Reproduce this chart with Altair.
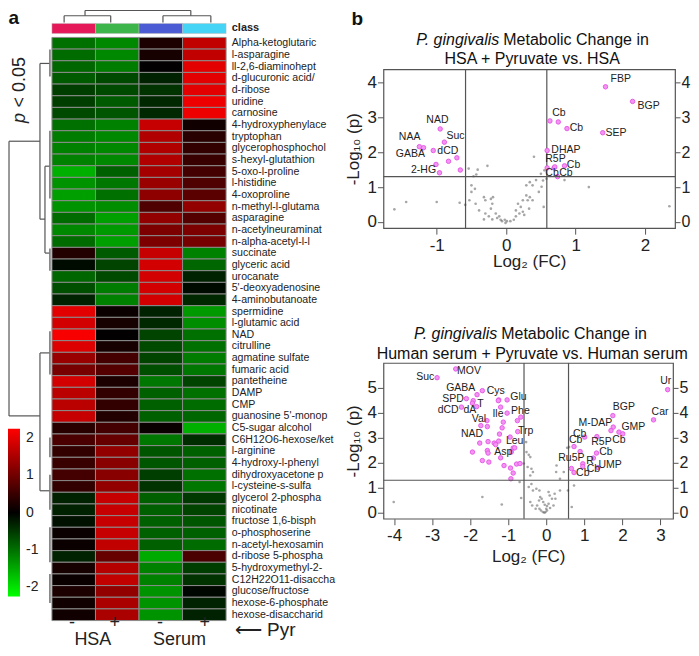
import altair as alt
import pandas as pd

FONT = "Liberation Sans"

# ---------------- heatmap data ----------------
metabolites = [
    "Alpha-ketoglutaric", "l-asparagine", "ll-2,6-diaminohept", "d-glucuronic acid/",
    "d-ribose", "uridine", "carnosine", "4-hydroxyphenylace", "tryptophan",
    "glycerophosphochol", "s-hexyl-glutathion", "5-oxo-l-proline", "l-histidine",
    "4-oxoproline", "n-methyl-l-glutama", "asparagine", "n-acetylneuraminat",
    "n-alpha-acetyl-l-l", "succinate", "glyceric acid", "urocanate",
    "5'-deoxyadenosine", "4-aminobutanoate", "spermidine", "l-glutamic acid", "NAD",
    "citrulline", "agmatine sulfate", "fumaric acid", "pantetheine", "DAMP", "CMP",
    "guanosine 5'-monop", "C5-sugar alcohol", "C6H12O6-hexose/ket", "l-arginine",
    "4-hydroxy-l-phenyl", "dihydroxyacetone p", "l-cysteine-s-sulfa",
    "glycerol 2-phospha", "nicotinate", "fructose 1,6-bisph", "o-phosphoserine",
    "n-acetyl-hexosamin", "d-ribose 5-phospha", "5-hydroxymethyl-2-",
    "C12H22O11-disaccha", "glucose/fructose", "hexose-6-phosphate", "hexose-disaccharid",
]
hsa_minus = [-1.0, -0.95, -0.9, -0.8, -0.55, -0.55, -0.65, -1.0, -1.1, -1.15, -1.15, -1.55,
             -1.3, -1.4, -1.3, -0.95, -1.2, -0.95, 0.3, -0.1, -0.9, -0.7, -0.3, 2.0, 1.85,
             2.2, 1.95, 1.35, 1.05, 1.85, 1.65, 1.65, 1.75, 0.35, 0.65, 0.45, 0.5, 0.6, 0.45,
             -0.3, -0.3, -0.15, 0.1, 0.1, -0.3, 0.2, 0.1, 0.25, 0.15, 0.15]
hsa_plus = [-1.2, -1.2, -1.1, -0.65, -0.65, -0.8, -0.75, -1.15, -1.2, -1.2, -1.2, -0.85,
            -1.05, -1.0, -1.25, -1.4, -1.35, -1.4, -0.8, -0.6, -0.65, -1.1, -1.15, 0.1, 0.2,
            0.02, 0.2, 0.6, 0.75, 0.25, 0.45, 0.45, 0.3, 0.6, 0.9, 1.3, 1.2, 1.2, 1.3, 1.75,
            1.75, 1.75, 1.75, 1.7, 0.9, 1.6, 1.7, 1.3, 1.5, 1.5]
serum_minus = [0.25, 0.2, 0.02, -0.3, -0.45, -0.35, -0.35, 1.75, 1.55, 1.55, 1.55, 1.45,
               1.35, 1.25, 0.7, 1.3, 1.1, 1.1, 1.75, 1.85, 1.85, 1.85, 1.85, -0.3, -0.35,
               -0.6, -0.65, -0.6, -0.7, -1.05, -0.85, -0.85, -0.85, 0.1, -1.05, -0.75, -0.75,
               -0.55, -0.45, -0.85, -0.85, -0.85, -0.85, -0.85, -1.5, -1.15, -1.15, -1.3,
               -1.3, -1.3]
serum_plus = [1.7, 1.7, 2.0, 2.0, 2.0, 2.1, 2.1, 0.15, 0.35, 0.45, 0.5, 0.6, 0.7, 0.8, 1.3,
              0.75, 1.1, 1.05, -1.15, -0.9, -0.3, -0.1, -0.35, -1.35, -1.25, -1.0, -1.0, -1.1,
              -1.05, -0.6, -1.0, -0.95, -0.9, -1.55, -0.4, -0.85, -0.85, -1.0, -1.05, -0.5,
              -0.6, -0.75, -0.85, -0.95, 0.65, -0.55, -0.45, -0.05, -0.3, -0.3]
class_colors = ["#E5185A", "#3DB54A", "#4B5BD3", "#45D4F5"]
pyr_signs = ["-", "+", "-", "+"]
media = ["HSA", "Serum"]
legend_ticks = [2, 1, 0, -1, -2]

# dendrogram segments: (height1, position1, height2, position2)
# row tree: height in column widths (negative = left), position in rows
row_tree_main = [
    (-0.986, 8.90, -0.986, 32.45), (-0.986, 8.90, -0.275, 8.90), (-0.986, 32.45, -0.275, 32.45),
    (-0.275, 2.23, -0.275, 15.58), (-0.275, 2.23, -0.046, 2.23),
    (-0.275, 15.58, -0.16, 15.58), (-0.16, 11.04, -0.16, 18.49),
    (-0.16, 11.04, -0.046, 11.04), (-0.16, 18.49, -0.046, 18.49),
    (-0.275, 27.05, -0.275, 38.87), (-0.275, 27.05, -0.046, 27.05), (-0.275, 38.87, -0.046, 38.87),
]
row_tree_leaf = [
    (-0.046, 1.03, -0.046, 3.34), (-0.046, 8.0, -0.046, 13.8), (-0.046, 18.1, -0.046, 20.0),
    (-0.046, 25.2, -0.046, 28.9), (-0.046, 34.3, -0.046, 36.0), (-0.046, 37.5, -0.046, 40.5),
    (-0.046, 42.0, -0.046, 45.0), (-0.046, 46.0, -0.046, 48.5),
]
# column tree: position in columns, height in rows (negative = above)
col_tree = [
    (0.28, -1.86, 1.35, -1.86), (0.28, -1.86, 0.28, -1.28), (1.35, -1.86, 1.35, -1.28),
    (2.55, -1.86, 3.65, -1.86), (2.55, -1.86, 2.55, -1.28), (3.65, -1.86, 3.65, -1.28),
    (0.76, -2.31, 3.19, -2.31), (0.76, -2.31, 0.76, -1.86), (3.19, -2.31, 3.19, -1.86),
]

# ---------------- volcano data ----------------
hsa_grey_fc = [-1.61, -1.44, -1.0, -0.67, -0.59, 2.35, 1.19, 0.84, 0.54, 0.40, -0.54, -0.47,
               -0.43, -0.41, -0.27, -0.50, -0.45, -0.50, -0.53, -0.44, -0.39, -0.32, -0.30,
               -0.22, -0.20, -0.19, -0.22, -0.30, -0.32, -0.25, -0.20, -0.15, -0.10, -0.06,
               -0.01, 0.01, -0.02, -0.08, -0.13, 0.06, 0.11, 0.14, 0.19, 0.24, 0.14, 0.21,
               0.17, 0.29, 0.34, 0.38, 0.31, 0.26, 0.33, 0.24, 0.38, 0.43, 0.47, 0.51, 0.55,
               0.50, 0.58, 0.53, 0.34, 0.29]
hsa_grey_p = [0.36, 0.57, 0.57, 0.55, 0.49, 0.45, 1.0, 1.2, 0.43, 1.87, 1.53, 1.31, 1.36,
              1.50, 1.61, 1.05, 0.95, 0.86, 0.62, 0.52, 0.33, 0.71, 0.62, 0.66, 0.52, 0.71,
              0.38, 0.24, 0.07, 0.16, 0.07, 0.24, 0.16, 0.02, -0.03, 0.02, 0.06, 0.06, 0.11,
              0.02, 0.06, 0.16, 0.24, 0.29, 0.33, 0.43, 0.52, 0.76, 0.71, 0.62, 0.62, 0.20,
              0.38, 0.62, 1.05, 1.20, 0.86, 1.01, 1.48, 1.38, 1.24, 1.19, 1.14, 1.05]
hsa_sig_fc = [1.43, 1.82, 1.39, 0.63, 0.75, 0.875, 0.59, 0.59, 0.69, 0.70, 0.84, 0.74, -0.95,
              -0.89, -1.25, -1.19, -1.05, -0.71, -0.83, -1.01, -0.66, -0.96]
hsa_sig_p = [3.88, 3.46, 2.56, 2.90, 2.87, 2.68, 2.05, 1.55, 1.55, 1.58, 1.61, 1.30, 2.67,
             2.29, 2.16, 2.13, 2.05, 1.84, 1.74, 1.65, 1.49, 1.41]
hsa_labels = ["FBP", "BGP", "SEP", "Cb", "Cb", "DHAP", "R5P", "Cb", "Cb", "Cb", "NAD", "Suc",
              "NAA", "GABA", "dCD", "2-HG"]
hsa_label_fc = [1.65, 2.05, 1.58, 0.76, 1.01, 0.86, 0.71, 0.97, 0.66, 0.86, -0.99, -0.73,
                -1.39, -1.38, -0.84, -1.19]
hsa_label_p = [4.10, 3.34, 2.56, 3.13, 2.70, 2.07, 1.81, 1.64, 1.41, 1.41, 2.93, 2.46, 2.43,
               1.95, 2.05, 1.48]

serum_grey_fc = [-4.01, -1.68, -1.17, -0.53, -0.52, -0.46, -0.42, -0.59, -0.49, -0.39, -0.35,
                 -0.42, -0.70, -0.66, -0.46, -0.39, -0.35, -0.26, -0.18, -0.19, -0.42, -0.37,
                 -0.28, -0.18, -0.14, -0.09, -0.05, -0.02, 0.02, 0.06, 0.09, 0.15, 0.24, 0.22,
                 0.19, 0.06, 0.10, 0.02, 0.26, 0.27, 0.36, 0.36, 0.46, 0.55, 0.57, 0.67, 0.73,
                 -0.16, -0.12, -0.08, -0.04, 0.0, -0.24, 0.60]
serum_grey_p = [0.43, 0.63, 0.33, 2.83, 2.43, 2.32, 2.23, 1.97, 1.83, 1.76, 1.63, 1.49, 1.23,
                0.59, 1.03, 1.15, 0.89, 0.96, 0.89, 0.49, 0.43, 0.29, 0.16, 0.16, 0.09, 0.03,
                0.0, 0.03, 0.09, 0.83, 0.69, 0.56, 0.56, 0.76, 0.29, 0.36, 0.19, 0.27, 1.63,
                1.89, 0.89, 1.36, 1.63, 2.60, 0.89, 0.23, 1.09, 0.63, 0.56, 0.43, 0.32, 0.16,
                0.29, 2.63]
serum_sig_fc = [-2.38, -2.87, -1.68, -1.82, -2.10, -1.92, -1.94, -1.83, -2.23, -1.25, -1.26,
                -1.03, -1.20, -1.03, -1.56, -1.55, -1.72, -1.13, -1.16, -0.75, -0.67, -0.76,
                -1.23, -1.75, -1.53, -1.37, -1.33, -1.25, -1.55, -1.53, -1.94, -0.95, -0.87,
                -0.83, -0.92, -1.20, -1.68, -1.51, -1.11, -0.78, -0.69, -0.94, -0.87, -0.93,
                3.19, 2.82, 1.75, 1.76, 1.70, 1.91, 2.01, 1.33, 1.01, 0.73, 0.89, 1.32, 1.24,
                0.96, 0.96, 1.36, 0.66, 0.73]
serum_sig_p = [5.76, 5.41, 4.89, 4.73, 4.57, 4.49, 4.39, 4.25, 4.23, 4.52, 4.49, 4.52, 4.23,
               3.99, 3.69, 3.45, 3.49, 3.63, 3.40, 3.25, 3.83, 3.69, 3.15, 2.79, 2.85, 2.79,
               2.73, 2.87, 2.49, 2.39, 2.43, 3.03, 2.59, 2.60, 2.43, 2.20, 2.09, 2.03, 1.89,
               1.95, 1.97, 1.79, 1.59, 1.36, 4.93, 3.72, 3.89, 3.43, 3.29, 3.23, 3.16, 3.05,
               3.03, 2.65, 2.45, 2.39, 2.19, 1.96, 1.85, 1.81, 1.77, 1.61]
serum_labels = ["MOV", "Suc", "GABA", "Cys", "SPD", "T", "Glu", "dCD", "dA", "Ile", "Phe",
                "Val", "Trp", "NAD", "Leu", "Asp", "Ur", "Car", "BGP", "M-DAP", "GMP", "Cb",
                "Cb", "R5P", "Cb", "Cb", "Ru5P", "R", "UMP", "Cb", "Cb"]
serum_label_fc = [-2.03, -3.18, -2.25, -1.33, -2.45, -1.73, -0.73, -2.58, -2.01, -1.27, -0.68,
                  -1.77, -0.54, -1.95, -0.83, -1.13, 3.14, 2.99, 2.04, 1.29, 2.29, 0.88, 0.77,
                  1.45, 1.91, 1.57, 0.66, 1.15, 1.68, 1.24, 0.96]
serum_label_p = [5.69, 5.44, 4.99, 4.89, 4.56, 4.36, 4.65, 4.12, 4.12, 3.96, 4.09, 3.76, 3.29,
                 3.16, 2.87, 2.45, 5.29, 4.03, 4.25, 3.61, 3.45, 3.17, 2.92, 2.83, 2.93, 2.43,
                 2.19, 2.09, 1.92, 1.76, 1.60]
fc_cut = [-0.585, 0.585]
p_cut = [1.301]

# ---------------- left panel (heatmap) ----------------
# plot origin of the left panel is aligned with the plot origin of the top volcano
COL_W, ROW_H = 43.6, 11.68
W_LEFT, H_LEFT = 330, 580
XMIN = -(52 - 8) / COL_W
XMAX = XMIN + W_LEFT / COL_W
YMIN = (68 - 36) / ROW_H
YMAX = YMIN + H_LEFT / ROW_H
xsL = alt.Scale(domain=[XMIN, XMAX], nice=False, zero=False)
ysL = alt.Scale(domain=[YMIN, YMAX], nice=False, zero=False, reverse=True)


def LX(f):
    return alt.X(f, type="quantitative", scale=xsL, axis=None)


def LY(f):
    return alt.Y(f, type="quantitative", scale=ysL, axis=None)


cols = [hsa_minus, hsa_plus, serum_minus, serum_plus]
heat = pd.DataFrame([
    {"m": m, "r": i, "r2": i + 1, "c": j, "c2": j + 1, "z": cols[j][i]}
    for i, m in enumerate(metabolites) for j in range(4)
])
heat_layer = alt.Chart(heat).mark_rect(stroke="#8c8c8c", strokeWidth=1).encode(
    x=LX("c"), x2="c2", y=LY("r"), y2="r2",
    color=alt.Color("z:Q",
                    scale=alt.Scale(domain=[-2.25, 0, 2.25],
                                    range=["#00ff00", "#000000", "#ff0000"],
                                    interpolate="rgb"),
                    legend=alt.Legend(title=None, orient="none", legendX=0, legendY=360,
                                      direction="vertical", gradientLength=168,
                                      gradientThickness=12, gradientStrokeWidth=0,
                                      values=legend_ticks, labelFontSize=14,
                                      labelAlign="center", labelOffset=6,
                                      labelColor="#222", labelExpr="'' + datum.value")),
)

cls = pd.DataFrame({"c": range(4), "c2": [k + 1 for k in range(4)], "col": class_colors,
                    "y1": -1.20, "y2": -0.34})
class_layer = alt.Chart(cls).mark_rect(stroke="#bbbbbb", strokeWidth=0.5).encode(
    x=LX("c"), x2="c2", y=LY("y1"), y2="y2", fill=alt.Fill("col:N", scale=None))

seg_main = pd.DataFrame(row_tree_main + col_tree, columns=["x1", "y1", "x2", "y2"])
seg_leaf = pd.DataFrame(row_tree_leaf, columns=["x1", "y1", "x2", "y2"])
tree_layer = alt.Chart(seg_main).mark_rule(color="#555555", strokeWidth=1.2).encode(
    x=LX("x1"), y=LY("y1"), x2="x2", y2="y2")
leaf_layer = alt.Chart(seg_leaf).mark_rule(color="#777777", strokeWidth=1.6).encode(
    x=LX("x1"), y=LY("y1"), x2="x2", y2="y2")

lab = pd.DataFrame({"m": metabolites, "r": [i + 0.5 for i in range(len(metabolites))],
                    "x": 4.13})
label_layer = alt.Chart(lab).mark_text(align="left", baseline="middle", fontSize=10.6,
                                       color="#222").encode(
    x=LX("x"), y=LY("r"), text="m:N")

class_txt = alt.Chart(pd.DataFrame({"t": ["class"], "x": [4.13], "y": [-0.77]})).mark_text(
    align="left", baseline="middle", fontSize=11, fontWeight="bold", color="#222").encode(
    x=LX("x"), y=LY("y"), text="t:N")

signs = pd.DataFrame({"t": pyr_signs, "x": [0.46, 1.44, 2.48, 3.51], "y": 50.21})
sign_layer = alt.Chart(signs).mark_text(baseline="middle", fontSize=18, color="#222").encode(
    x=LX("x"), y=LY("y"), text="t:N")
med = pd.DataFrame({"t": media, "x": [0.94, 2.93], "y": 51.67})
med_layer = alt.Chart(med).mark_text(baseline="middle", fontSize=18, color="#222").encode(
    x=LX("x"), y=LY("y"), text="t:N")
pyr = pd.DataFrame({"t": ["\u27f5 Pyr"], "x": [4.2], "y": [50.78]})
pyr_layer = alt.Chart(pyr).mark_text(align="left", baseline="middle", fontSize=19,
                                     color="#222").encode(x=LX("x"), y=LY("y"), text="t:N")

p_it = alt.Chart(pd.DataFrame({"t": ["p"], "x": [-0.734], "y": [6.9]})).mark_text(
    angle=270, baseline="middle", fontSize=18, fontStyle="italic", color="#222").encode(
    x=LX("x"), y=LY("y"), text="t:N")
p_txt = alt.Chart(pd.DataFrame({"t": ["< 0.05"], "x": [-0.734], "y": [3.85]})).mark_text(
    angle=270, baseline="middle", fontSize=18, color="#222").encode(
    x=LX("x"), y=LY("y"), text="t:N")
a_txt = alt.Chart(pd.DataFrame({"t": ["a"], "x": [-0.995], "y": [-1.65]})).mark_text(
    align="left", baseline="middle", fontSize=19, fontWeight="bold", color="#111").encode(
    x=LX("x"), y=LY("y"), text="t:N")

left = alt.layer(heat_layer, class_layer, tree_layer, leaf_layer, label_layer, class_txt,
                 sign_layer, med_layer, pyr_layer, p_it, p_txt, a_txt).properties(
    width=W_LEFT, height=H_LEFT, view=alt.ViewBackground(stroke=None))


# ---------------- volcano panels ----------------
def volcano(grey_fc, grey_p, sig_fc, sig_p, labels, label_fc, label_p, xdom, ydom, w, h,
            xticks, yticks, title_items, x_title_pad):
    xs = alt.Scale(domain=xdom, nice=False, zero=False)
    ys = alt.Scale(domain=ydom, nice=False, zero=False)
    xax = alt.Axis(values=xticks, title="Log\u2082 (FC)", grid=False, domain=False,
                   tickSize=6, tickColor="#555", labelFontSize=17, titleFontSize=17,
                   titleFontWeight="normal", labelPadding=3, titlePadding=x_title_pad,
                   labelColor="#222", titleColor="#222", labelExpr="'' + datum.value")
    yax = alt.Axis(values=yticks, title="-Log\u2081\u2080 (p)", grid=False, domain=False,
                   tickSize=6, tickColor="#555", labelFontSize=17, titleFontSize=17,
                   titleFontWeight="normal", labelPadding=1, titlePadding=5,
                   labelColor="#222", titleColor="#222", labelExpr="'' + datum.value")

    def X(f):
        return alt.X(f, type="quantitative", scale=xs, axis=xax)

    def Y(f):
        return alt.Y(f, type="quantitative", scale=ys, axis=yax)

    grey = alt.Chart(pd.DataFrame({"fc": grey_fc, "p": grey_p})).mark_circle(
        size=7, color="#3a3a3a", opacity=0.45).encode(x=X("fc"), y=Y("p"))
    pink = alt.Chart(pd.DataFrame({"fc": sig_fc, "p": sig_p})).mark_point(
        shape="circle", filled=True, size=20, fill="#F394F3", stroke="#E455E4",
        strokeWidth=0.9, opacity=1).encode(x=X("fc"), y=Y("p"))
    vrule = alt.Chart(pd.DataFrame({"fc": fc_cut})).mark_rule(
        color="#555", strokeWidth=1.2).encode(x=X("fc"))
    texts = alt.Chart(pd.DataFrame({"t": labels, "fc": label_fc, "p": label_p})).mark_text(
        fontSize=10.5, color="#222", baseline="middle").encode(
        x=X("fc"), y=Y("p"), text="t:N")
    layers = [vrule, grey, pink, texts]
    for t, fx, py, al, style, fs, fw in title_items:
        layers.append(alt.Chart(pd.DataFrame({"t": [t], "fc": [fx], "p": [py]})).mark_text(
            align=al, baseline="middle", fontSize=fs, fontStyle=style, fontWeight=fw,
            color="#111").encode(x=X("fc"), y=Y("p"), text="t:N"))
    inner = alt.layer(*layers)
    right_ax = alt.Chart(pd.DataFrame({"p": p_cut})).mark_rule(
        color="#555", strokeWidth=1.2).encode(
        y=alt.Y("p:Q", scale=ys,
                axis=alt.Axis(orient="right", values=yticks, title=None, grid=False,
                              domain=False, tickSize=5, tickColor="#555", labelFontSize=16,
                              labelPadding=1, labelColor="#222",
                              labelExpr="'' + datum.value")))
    return alt.layer(inner, right_ax).resolve_scale(y="independent").properties(
        width=w, height=h)


top_titles = [
    ("P. gingivalis", -0.099, 5.214, "right", "italic", 16, "normal"),
    ("Metabolic Change in", -0.042, 5.214, "left", "normal", 16, "normal"),
    ("HSA + Pyruvate vs. HSA", 0.375, 4.669, "center", "normal", 16, "normal"),
    ("b", -2.227, 5.83, "left", "normal", 19, "bold"),
]
bottom_titles = [
    ("P. gingivalis", -1.289, 7.16, "right", "italic", 16, "normal"),
    ("Metabolic Change in", -1.184, 7.16, "left", "normal", 16, "normal"),
    ("Human serum + Pyruvate vs. Human serum", -0.37, 6.36, "center", "normal", 16,
     "normal"),
]

top = volcano(hsa_grey_fc, hsa_grey_p, hsa_sig_fc, hsa_sig_p, hsa_labels, hsa_label_fc,
              hsa_label_p, [-1.767, 2.431], [-0.18, 4.38], 292, 159, [-1, 0, 1, 2],
              [0, 1, 2, 3, 4], top_titles, 0)
bottom = volcano(serum_grey_fc, serum_grey_p, serum_sig_fc, serum_sig_p, serum_labels,
                 serum_label_fc, serum_label_p, [-4.28, 3.332], [-0.24, 6.0], 290, 156,
                 [-4, -3, -2, -1, 0, 1, 2, 3], [0, 1, 2, 3, 4, 5], bottom_titles, 5)

chart = alt.hconcat(left, alt.vconcat(top, bottom, spacing=55), spacing=5).properties(
    padding=0
).configure(font=FONT).configure_view(stroke="#555", strokeWidth=1.2)

chart.save("out.html", embed_options={"renderer": "svg", "actions": False})
